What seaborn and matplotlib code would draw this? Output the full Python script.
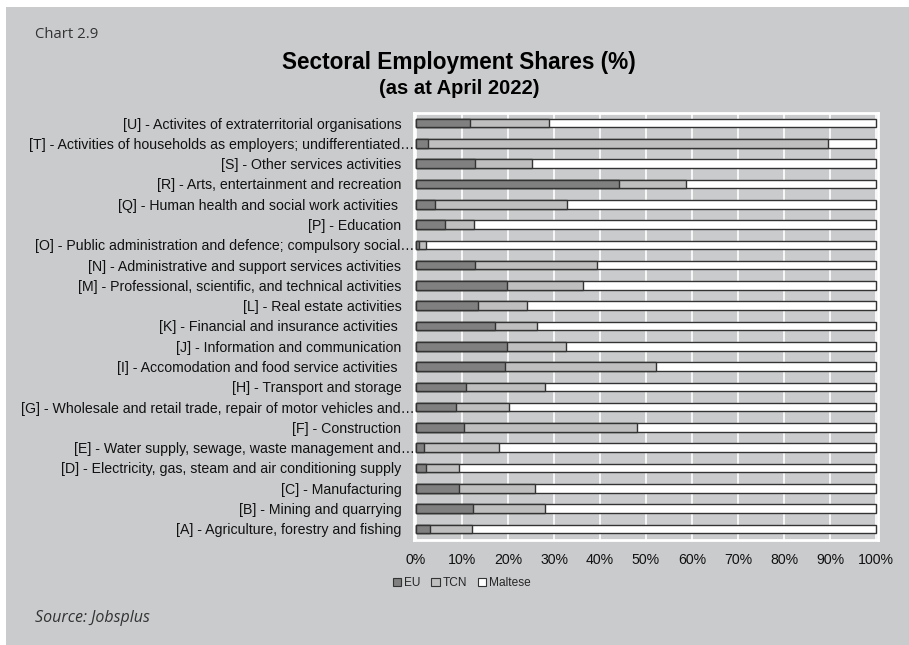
import matplotlib
matplotlib.use("Agg")
import matplotlib.pyplot as plt
import matplotlib.transforms as mtransforms
from matplotlib.patches import Patch, Rectangle
import numpy as np
import pandas as pd
import seaborn as sns

sectors = [
    "[U] - Activites of extraterritorial organisations",
    "[T] - Activities of households as employers; undifferentiated…",
    "[S] - Other services activities",
    "[R] - Arts, entertainment and recreation",
    "[Q] - Human health and social work activities ",
    "[P] - Education",
    "[O] - Public administration and defence; compulsory social…",
    "[N] - Administrative and support services activities",
    "[M] - Professional, scientific, and technical activities",
    "[L] - Real estate activities",
    "[K] - Financial and insurance activities ",
    "[J] - Information and communication",
    "[I] - Accomodation and food service activities ",
    "[H] - Transport and storage",
    "[G] - Wholesale and retail trade, repair of motor vehicles and…",
    "[F] - Construction",
    "[E] - Water supply, sewage, waste management and…",
    "[D] - Electricity, gas, steam and air conditioning supply",
    "[C] - Manufacturing",
    "[B] - Mining and quarrying",
    "[A] - Agriculture, forestry and fishing",
]
eu = [11.7, 2.7, 12.8, 44.1, 4.2, 6.2, 0.6, 12.9, 19.8, 13.4, 17.2,
      19.7, 19.3, 10.9, 8.6, 10.5, 1.7, 2.2, 9.3, 12.3, 3.0]
tcn = [17.1, 86.9, 12.4, 14.5, 28.7, 6.5, 1.5, 26.4, 16.6, 10.7, 9.1,
       12.8, 32.9, 17.1, 11.5, 37.5, 16.3, 7.2, 16.6, 15.7, 9.2]
maltese = [71.2, 10.4, 74.8, 41.4, 67.1, 87.3, 97.9, 60.7, 63.6, 75.9, 73.7,
           67.5, 47.8, 72.0, 79.9, 52.0, 82.0, 90.6, 74.1, 72.0, 87.8]
series_names = ["EU", "TCN", "Maltese"]
tick_labels = ["0%", "10%", "20%", "30%", "40%", "50%", "60%", "70%", "80%", "90%", "100%"]

BG = "#cacbcd"
colors = {"EU": "#808080", "TCN": "#bfbfbf", "Maltese": "#ffffff"}
EDGE = "#333333"

sns.set_theme(style="white")
plt.rcParams["font.family"] = ["Liberation Sans", "DejaVu Sans"]

df = pd.DataFrame({"sector": sectors, "EU": eu, "TCN": tcn, "Maltese": maltese})
df["cum_eu"] = df["EU"]
df["cum_tcn"] = df["EU"] + df["TCN"]
df["cum_all"] = df["EU"] + df["TCN"] + df["Maltese"]

fig = plt.figure(figsize=(9.09, 6.45), dpi=100, facecolor="white")
# grey panel behind the whole chart
fig.patches.append(Rectangle((6 / 909, 0), 1, 1 - 7 / 645, transform=fig.transFigure,
                             facecolor=BG, edgecolor="none", zorder=-10))

ax = fig.add_axes([414 / 909, 1 - 540 / 645, 464 / 909, 427 / 645])
ax.set_facecolor(BG)

# stacked bars: draw the cumulative totals back-to-front
for col, name in [("cum_all", "Maltese"), ("cum_tcn", "TCN"), ("cum_eu", "EU")]:
    sns.barplot(data=df, x=col, y="sector", orient="h", color=colors[name],
                saturation=1, width=0.42, edgecolor=EDGE, linewidth=1.0,
                ax=ax, zorder=3)

ax.set_xlim(-0.45, 100.45)
ax.set_ylim(len(sectors) - 0.45, -0.5)
ax.set_xticks(np.arange(0, 101, 10))
ax.set_xticklabels(tick_labels)
ax.xaxis.grid(True, color="white", linewidth=1.2, zorder=0)
ax.yaxis.grid(False)
ax.set_axisbelow(True)
ax.set_xlabel("")
ax.set_ylabel("")
for s in ax.spines.values():
    s.set_color("white")
    s.set_linewidth(2.0)
ax.tick_params(axis="y", length=0, pad=9, labelsize=10.2, labelcolor="#111111")
ax.tick_params(axis="x", length=0, pad=9, labelsize=10.2, labelcolor="#111111")

# truncated labels run right up to the plot edge
shift = mtransforms.ScaledTranslation(0.13, 0, fig.dpi_scale_trans)
for lab in ax.get_yticklabels():
    if lab.get_text().endswith("…"):
        lab.set_transform(lab.get_transform() + shift)

handles = [Patch(facecolor=colors[n], edgecolor=EDGE, linewidth=0.8, label=n)
           for n in series_names]
fig.legend(handles=handles, loc="center", bbox_to_anchor=(462 / 909, 1 - 583 / 645),
           ncol=3, frameon=False, fontsize=8.6, handlelength=0.7, handleheight=0.7,
           handletextpad=0.25, columnspacing=0.9)

fig.text(459 / 909, 1 - 62 / 645, "Sectoral Employment Shares (%)", ha="center",
         va="center", fontsize=16.3, fontweight="bold", color="black")
fig.text(459 / 909, 1 - 88 / 645, "(as at April 2022)", ha="center",
         va="center", fontsize=14.5, fontweight="bold", color="black")
fig.text(35 / 909, 1 - 35 / 645, "Chart 2.9", ha="left", va="center",
         fontsize=10.7, color="#333333", family=["Open Sans", "DejaVu Sans"])
fig.text(35 / 909, 1 - 618 / 645, "Source: Jobsplus", ha="left", va="center",
         fontsize=11.5, color="#333333", style="italic", family=["Open Sans", "DejaVu Sans"])

fig.savefig("out.png", dpi=100, facecolor=fig.get_facecolor())
